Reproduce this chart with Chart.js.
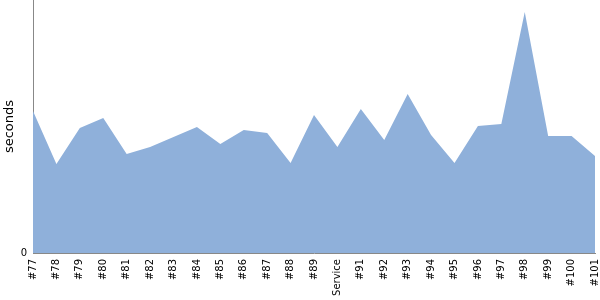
<!DOCTYPE html>
<html><head><meta charset="utf-8">
<script src="https://cdn.jsdelivr.net/npm/chart.js@4/dist/chart.umd.min.js"></script>
<style>html,body{margin:0;padding:0;background:#fff}#wrap{width:600px;height:300px}</style>
</head><body><div id="wrap"><canvas id="c" width="600" height="300"></canvas></div>
<script>
const categories = ['#77','#78','#79','#80','#81','#82','#83','#84','#85','#86','#87','#88','#89','Service','#91','#92','#93','#94','#95','#96','#97','#98','#99','#100','#101'];
const seconds = [142,89,125,135,99,106,116,126,109,123,120,90,138,106,144,113,159,118,90,127,129,241,117,117,97];
const yTickLabels = ['0'];

new Chart(document.getElementById('c'), {
  type: 'line',
  data: {
    labels: categories,
    datasets: [{
      data: seconds,
      fill: 'origin',
      backgroundColor: 'rgb(143,176,218)',
      borderColor: 'rgba(0,0,0,0)',
      borderWidth: 0,
      pointRadius: 0,
      tension: 0
    }]
  },
  options: {
    responsive: false,
    animation: false,
    layout: {padding: {top: 0, right: 5, bottom: 0, left: 0}},
    plugins: {legend: {display: false}, tooltip: {enabled: false}},
    scales: {
      x: {
        offset: false,
        grid: {display: false, drawTicks: false},
        border: {color: '#888', width: 1},
        ticks: {
          autoSkip: false, minRotation: 90, maxRotation: 90, padding: 6,
          color: '#000', font: {family: 'DejaVu Sans', size: 10}
        },
        afterFit: s => { s.height = 47; s.paddingLeft = 0; s.paddingRight = 0; }
      },
      y: {
        min: 0, max: 253,
        grid: {display: false, drawTicks: true, tickLength: 4, tickColor: '#888'},
        border: {color: '#888', width: 1},
        ticks: {
          stepSize: 253, color: '#000', padding: 2,
          font: {family: 'DejaVu Sans', size: 10},
          callback: (v) => v === 0 ? yTickLabels[0] : ''
        },
        title: {display: true, text: 'seconds', color: '#000', font: {family: 'DejaVu Sans', size: 13}, padding: {top: 2, bottom: 0}},
        afterFit: s => { s.width = 33; s.paddingTop = 0; s.paddingBottom = 0; }
      }
    }
  }
});
</script></body></html>
